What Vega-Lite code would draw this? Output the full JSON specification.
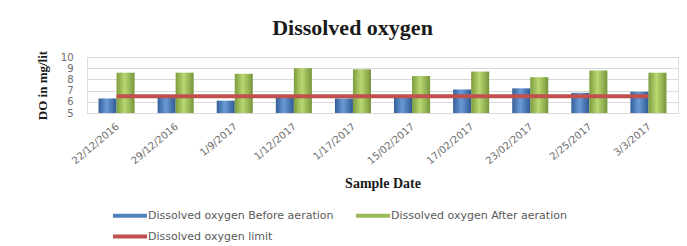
{
  "$schema": "https://vega.github.io/schema/vega-lite/v6.json",
  "width": 591,
  "height": 56,
  "autosize": {"type": "none"},
  "padding": {"left": 87, "top": 57, "right": 9, "bottom": 133},
  "background": "white",
  "title": {"text": "Dissolved oxygen", "font": "Liberation Serif", "fontSize": 22, "fontWeight": "bold", "color": "#1a1a1a", "offset": 10, "dx": -30},
  "datasets": {
    "bars": [
      {"date": "22/12/2016", "series": "Dissolved oxygen Before aeration", "value": 6.3},
      {"date": "22/12/2016", "series": "Dissolved oxygen After aeration", "value": 8.6},
      {"date": "29/12/2016", "series": "Dissolved oxygen Before aeration", "value": 6.4},
      {"date": "29/12/2016", "series": "Dissolved oxygen After aeration", "value": 8.6},
      {"date": "1/9/2017", "series": "Dissolved oxygen Before aeration", "value": 6.1},
      {"date": "1/9/2017", "series": "Dissolved oxygen After aeration", "value": 8.5},
      {"date": "1/12/2017", "series": "Dissolved oxygen Before aeration", "value": 6.4},
      {"date": "1/12/2017", "series": "Dissolved oxygen After aeration", "value": 9.0},
      {"date": "1/17/2017", "series": "Dissolved oxygen Before aeration", "value": 6.3},
      {"date": "1/17/2017", "series": "Dissolved oxygen After aeration", "value": 8.9},
      {"date": "15/02/2017", "series": "Dissolved oxygen Before aeration", "value": 6.4},
      {"date": "15/02/2017", "series": "Dissolved oxygen After aeration", "value": 8.3},
      {"date": "17/02/2017", "series": "Dissolved oxygen Before aeration", "value": 7.1},
      {"date": "17/02/2017", "series": "Dissolved oxygen After aeration", "value": 8.7},
      {"date": "23/02/2017", "series": "Dissolved oxygen Before aeration", "value": 7.2},
      {"date": "23/02/2017", "series": "Dissolved oxygen After aeration", "value": 8.2},
      {"date": "2/25/2017", "series": "Dissolved oxygen Before aeration", "value": 6.8},
      {"date": "2/25/2017", "series": "Dissolved oxygen After aeration", "value": 8.8},
      {"date": "3/3/2017", "series": "Dissolved oxygen Before aeration", "value": 6.9},
      {"date": "3/3/2017", "series": "Dissolved oxygen After aeration", "value": 8.6}
    ],
    "limit": [
      {"date": "22/12/2016", "value": 6.5},
      {"date": "29/12/2016", "value": 6.5},
      {"date": "1/9/2017", "value": 6.5},
      {"date": "1/12/2017", "value": 6.5},
      {"date": "1/17/2017", "value": 6.5},
      {"date": "15/02/2017", "value": 6.5},
      {"date": "17/02/2017", "value": 6.5},
      {"date": "23/02/2017", "value": 6.5},
      {"date": "2/25/2017", "value": 6.5},
      {"date": "3/3/2017", "value": 6.5}
    ]
  },
  "encoding": {
    "x": {
      "field": "date", "type": "nominal", "sort": null,
      "scale": {"paddingInner": 0.39, "paddingOuter": 0.195},
      "axis": {
        "title": "Sample Date", "titleFont": "Liberation Serif", "titleFontWeight": "bold", "titleFontSize": 14, "titleColor": "#1a1a1a", "titlePadding": 11,
        "labelAngle": -40, "labelAlign": "right", "labelBaseline": "top", "labelOffset": -2,
        "labelFont": "DejaVu Sans", "labelFontSize": 10, "labelColor": "#6b6b6b", "labelPadding": 8,
        "ticks": false, "tickSize": 0, "domain": true, "domainColor": "#d9d9d9"
      }
    },
    "y": {
      "field": "value", "type": "quantitative",
      "scale": {"domain": [5, 10], "zero": false, "nice": false},
      "axis": {
        "values": [5, 6, 7, 8, 9, 10], "labelOverlap": false, "grid": true, "gridColor": "#d9d9d9", "domain": false, "ticks": false, "tickSize": 0,
        "labelFont": "DejaVu Sans", "labelFontSize": 10, "labelColor": "#6b6b6b", "labelPadding": 14,
        "title": "DO in mg/lit", "titleFont": "Liberation Serif", "titleFontSize": 13, "titleFontWeight": "bold", "titleColor": "#1a1a1a", "titlePadding": 11
      }
    }
  },
  "layer": [
    {
      "data": {"name": "bars"},
      "transform": [{"filter": "datum.series === 'Dissolved oxygen Before aeration'"}],
      "mark": {
        "type": "bar",
        "fill": {"gradient": "linear", "x1": 0, "y1": 0, "x2": 1, "y2": 0,
          "stops": [{"offset": 0, "color": "#345f98"}, {"offset": 0.45, "color": "#6a9ad6"}, {"offset": 1, "color": "#2f5a92"}]}
      },
      "encoding": {
        "xOffset": {"field": "series", "type": "nominal", "scale": {"domain": ["Dissolved oxygen Before aeration", "Dissolved oxygen After aeration"]}},
        "y2": {"datum": 5}
      }
    },
    {
      "data": {"name": "bars"},
      "transform": [{"filter": "datum.series === 'Dissolved oxygen After aeration'"}],
      "mark": {
        "type": "bar",
        "fill": {"gradient": "linear", "x1": 0, "y1": 0, "x2": 1, "y2": 0,
          "stops": [{"offset": 0, "color": "#7c9c3e"}, {"offset": 0.45, "color": "#b9d872"}, {"offset": 1, "color": "#76953a"}]}
      },
      "encoding": {
        "xOffset": {"field": "series", "type": "nominal", "scale": {"domain": ["Dissolved oxygen Before aeration", "Dissolved oxygen After aeration"]}},
        "y2": {"datum": 5}
      }
    },
    {
      "data": {"name": "limit"},
      "mark": {"type": "line", "strokeWidth": 4},
      "encoding": {
        "color": {
          "datum": "Dissolved oxygen limit",
          "scale": {
            "domain": ["Dissolved oxygen Before aeration", "Dissolved oxygen After aeration", "Dissolved oxygen limit"],
            "range": ["#4f81bd", "#9bbb59", "#c0504d"]
          },
          "legend": {
            "title": null, "orient": "none", "legendX": 34.5, "legendY": 150, "columns": 2, "direction": "horizontal",
            "symbolType": "M-2,-0.24H2V0.24H-2Z", "symbolSize": 289,
            "labelFont": "DejaVu Sans", "labelFontSize": 11, "labelColor": "#595959", "labelOffset": 9.5, "labelLimit": 400,
            "columnPadding": 22, "rowPadding": 7,
            "encode": {"symbols": {"update": {"fill": {"scale": "color", "field": "value"}, "stroke": {"value": "transparent"}, "strokeWidth": {"value": 0}}}}
          }
        }
      }
    }
  ]
}
